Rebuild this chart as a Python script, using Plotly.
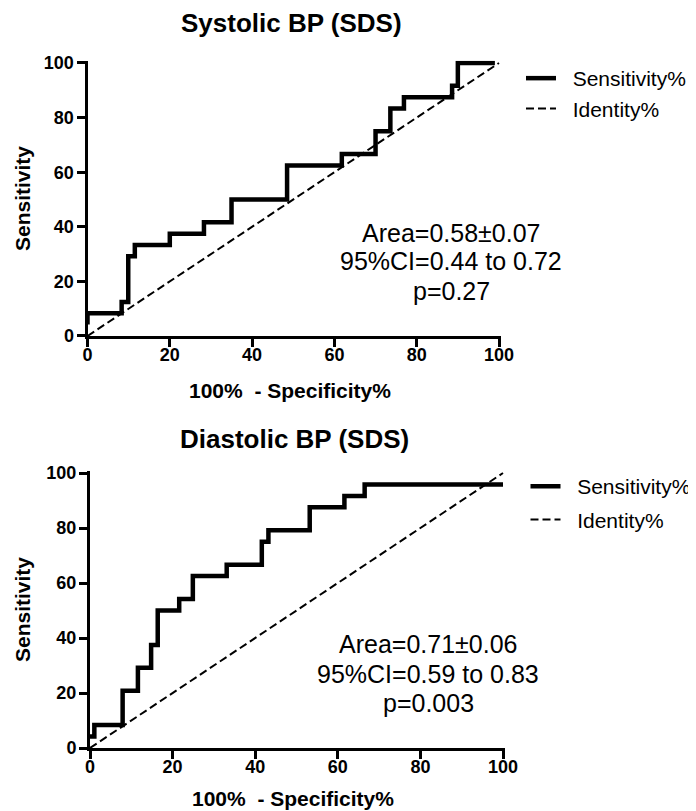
import plotly.graph_objects as go

W, H = 696, 811
OX, OY = 8, 8  # page body margin offset of the rendered figure
FONT = "Liberation Sans, Arial, Helvetica, sans-serif"

# ---------------- data ----------------
sys_fpr = [0, 0, 8.3, 9.9, 11.5, 20.0, 28.3, 35.0, 48.5, 61.8, 70.0, 73.6, 76.9, 88.6, 90.0, 99.0]
sys_sens = [4.17, 8.33, 12.5, 29.17, 33.33, 37.5, 41.67, 50.0, 62.5, 66.67, 75.0, 83.33, 87.5, 91.67, 100.0, 100.0]

dia_fpr = [0, 1.05, 7.9, 11.6, 14.8, 16.4, 21.6, 24.9, 33.1, 41.6, 43.2, 53.2, 61.6, 66.5, 100.0]
dia_sens = [4.17, 8.33, 20.83, 29.17, 37.5, 50.0, 54.17, 62.5, 66.67, 75.0, 79.17, 87.5, 91.67, 95.83, 95.83]

ident_x = [0, 100]
ident_y = [0, 100]

tick_vals = [0, 20, 40, 60, 80, 100]
tick_text = ["0", "20", "40", "60", "80", "100"]

titles = ["Systolic BP (SDS)", "Diastolic BP (SDS)"]
x_title = "100%\u00a0 - Specificity%"
y_title = "Sensitivity"
series_names = ["Sensitivity%", "Identity%"]
stats_sys = ["Area=0.58\u00b10.07", "95%CI=0.44 to 0.72", "p=0.27"]
stats_dia = ["Area=0.71\u00b10.06", "95%CI=0.59 to 0.83", "p=0.003"]

# ---------------- layout geometry (pixels) ----------------
XLO, XHI = 0, 100.5
YLO, YHI = 0, 100.8


def xdom(p0, p100):
    s = (p100 - p0) / 100.0
    return [(p0 - OX + XLO * s) / W, (p0 - OX + XHI * s) / W]


def ydom(p0, p100):
    s = (p0 - p100) / 100.0
    return [1 - (p0 - OY - YLO * s) / H, 1 - (p0 - OY - YHI * s) / H]


def px(v):
    return (v - OX) / W


def py(v):
    return 1 - (v - OY) / H


fig = go.Figure()

panels = [
    dict(fpr=sys_fpr, sens=sys_sens, xa="x", ya="y", leg="legend", tag="sys"),
    dict(fpr=dia_fpr, sens=dia_sens, xa="x2", ya="y2", leg="legend2", tag="dia"),
]
for p in panels:
    fig.add_trace(go.Scatter(
        x=p["fpr"], y=p["sens"], mode="lines", line=dict(color="black", width=4.5, shape="hv"),
        name="\u00a0\u00a0" + series_names[0], xaxis=p["xa"], yaxis=p["ya"], legend=p["leg"],
        legendgroup=p["tag"] + "_sens", hoverinfo="skip"))
    fig.add_trace(go.Scatter(
        x=ident_x, y=ident_y, mode="lines", line=dict(color="black", width=2, dash="8px,4px"),
        name="\u00a0\u00a0" + series_names[1], xaxis=p["xa"], yaxis=p["ya"], legend=p["leg"],
        legendgroup=p["tag"] + "_id", hoverinfo="skip"))

axis_common = dict(
    showline=True, linecolor="black", linewidth=3, ticks="outside", ticklen=8, tickwidth=3,
    tickcolor="black", showgrid=False, zeroline=False, tickvals=tick_vals, ticktext=tick_text,
    tickfont=dict(family=FONT, size=18, color="black", weight="bold"), fixedrange=True,
    automargin=False,
)

fig.update_layout(
    template="none",
    width=W, height=H, margin=dict(l=0, r=0, t=0, b=0, pad=0, autoexpand=False),
    paper_bgcolor="white", plot_bgcolor="white", showlegend=True,
    font=dict(family=FONT, color="black"),
    xaxis=dict(domain=xdom(87.5, 499), range=[XLO, XHI], anchor="y", ticklabelstandoff=-8, **axis_common),
    yaxis=dict(domain=ydom(336, 63), range=[YLO, YHI], anchor="x", ticklabelstandoff=-1, **axis_common),
    xaxis2=dict(domain=xdom(90, 503), range=[XLO, XHI], anchor="y2", ticklabelstandoff=-8, **axis_common),
    yaxis2=dict(domain=ydom(748, 473), range=[YLO, YHI], anchor="x2", ticklabelstandoff=-1, **axis_common),
    legend=dict(x=px(521), y=py(58), xanchor="left", yanchor="top", bgcolor="rgba(0,0,0,0)",
                font=dict(family=FONT, size=21, color="black"), itemwidth=30, borderwidth=0,
                tracegroupgap=0),
    legend2=dict(x=px(525.5), y=py(466), xanchor="left", yanchor="top", bgcolor="rgba(0,0,0,0)",
                 font=dict(family=FONT, size=21, color="black"), itemwidth=30, borderwidth=0,
                 tracegroupgap=3),
)

ann = []
# panel titles
for t, cx, cy in [(titles[0], 291, 23), (titles[1], 294, 439)]:
    ann.append(dict(text=t, x=px(cx), y=py(cy), xref="paper", yref="paper", showarrow=False,
                    xanchor="center", yanchor="middle",
                    font=dict(family=FONT, size=26, color="black", weight="bold")))
# x axis titles
for cx, cy in [(290, 390), (293, 798)]:
    ann.append(dict(text=x_title, x=px(cx), y=py(cy), xref="paper", yref="paper", showarrow=False,
                    xanchor="center", yanchor="middle",
                    font=dict(family=FONT, size=21, color="black", weight="bold")))
# y axis titles
for cy in [199, 610]:
    ann.append(dict(text=y_title, x=px(22), y=py(cy), xref="paper", yref="paper", showarrow=False,
                    xanchor="center", yanchor="middle", textangle=-90,
                    font=dict(family=FONT, size=21, color="black", weight="bold")))
# stats text
for lines, cx, cys in [(stats_sys, 451, [233.5, 261.5, 290.5]), (stats_dia, 428, [643.5, 673.5, 702.5])]:
    for s, cy in zip(lines, cys):
        ann.append(dict(text=s, x=px(cx), y=py(cy), xref="paper", yref="paper", showarrow=False,
                        xanchor="center", yanchor="middle",
                        font=dict(family=FONT, size=25, color="black")))

fig.update_layout(annotations=ann)
fig.write_html("out.html")
